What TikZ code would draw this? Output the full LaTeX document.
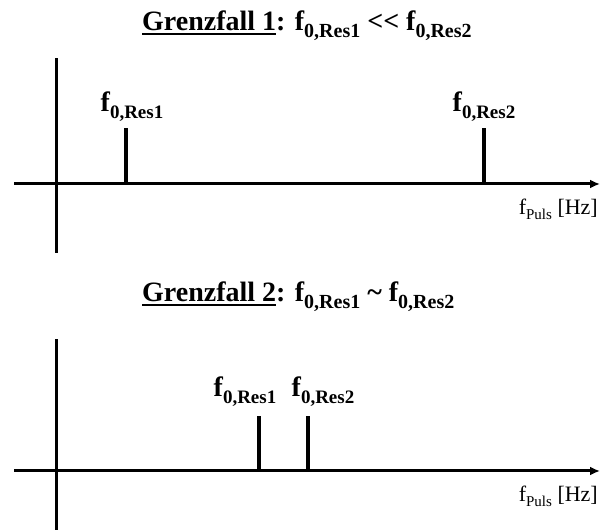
\documentclass[tikz,border=0pt]{standalone}
\usepackage{fontspec}
\setmainfont{Liberation Serif}
\usetikzlibrary{arrows.meta}
\usetikzlibrary{positioning}
\tikzstyle{axisLine}=[line width=3pt]
\tikzstyle{Axis}=[axisLine,-{Latex[length=10pt,width=9pt]}]
\tikzstyle{Peak}=[line width=3.5pt]
\tikzstyle{Title}=[inner sep=0pt,anchor=base west,font=\fontsize{28}{30}\selectfont\bfseries]
\tikzstyle{Label}=[inner sep=0pt,anchor=base,font=\fontsize{28}{30}\selectfont\bfseries]
\tikzstyle{Unit}=[inner sep=0pt,anchor=base east,font=\fontsize{22}{24}\selectfont]
\newcommand{\fRes}[2][19]{f\raisebox{-7pt}{\fontsize{#1}{#1}\selectfont 0,Res#2}}
\newcommand{\fPuls}{f\raisebox{-5pt}{\fontsize{15}{15}\selectfont Puls}}
\newcommand{\Uline}[1]{\setbox0\hbox{#1}\rlap{\rule[-4pt]{\wd0}{2pt}}\box0}

\begin{document}
\begin{tikzpicture}[x=1pt,y=1pt]

  \useasboundingbox (0,0) rectangle (600,530);

  % Titles
  \node [Title] (CaseA) at (142,499) {\Uline{Grenzfall 1}: \fRes[20]{1} \mbox{<}\mbox{<} \fRes[20]{2}};
  \node [Title] (CaseB) at (142,228) {\Uline{Grenzfall 2}: \fRes[20]{1} \textasciitilde{} \fRes[20]{2}};

  % Grenzfall 1
  % -----------
  \begin{scope}[shift={(56,346)}]
    \node [coordinate](PeakA) at (70,0) {};
    \node [coordinate](PeakB) at (428,0) {};

    % Axis
    \draw [axisLine] (0,-69)--(0,126);
    \draw [Axis] (-42,0)--(544,0);
    \node [Unit] (PulsA) at (542,-31) {\fPuls{} [Hz]};

    % Peaks
    \draw [Peak] (PeakA)--++(0,56);
    \draw [Peak] (PeakB)--++(0,56);
    \node [Label] (ResOneA) at (76,72) {\fRes{1}};
    \node [Label] (ResTwoA) at (428,72) {\fRes{2}};
  \end{scope}

  % Grenzfall 2
  % -----------
  \begin{scope}[shift={(56,59)}]
    \node [coordinate](PeakC) at (203,0) {};
    \node [coordinate](PeakD) at (252,0) {};

    % Axis
    \draw [axisLine] (0,-59)--(0,132);
    \draw [Axis] (-42,0)--(544,0);
    \node [Unit] (PulsB) at (542,-31) {\fPuls{} [Hz]};

    % Peaks
    \draw [Peak] (PeakC)--++(0,55);
    \draw [Peak] (PeakD)--++(0,55);
    \node [Label] (ResOneB) at (189,74) {\fRes{1}};
    \node [Label] (ResTwoB) at (267,74) {\fRes{2}};
  \end{scope}

\end{tikzpicture}
\end{document}
